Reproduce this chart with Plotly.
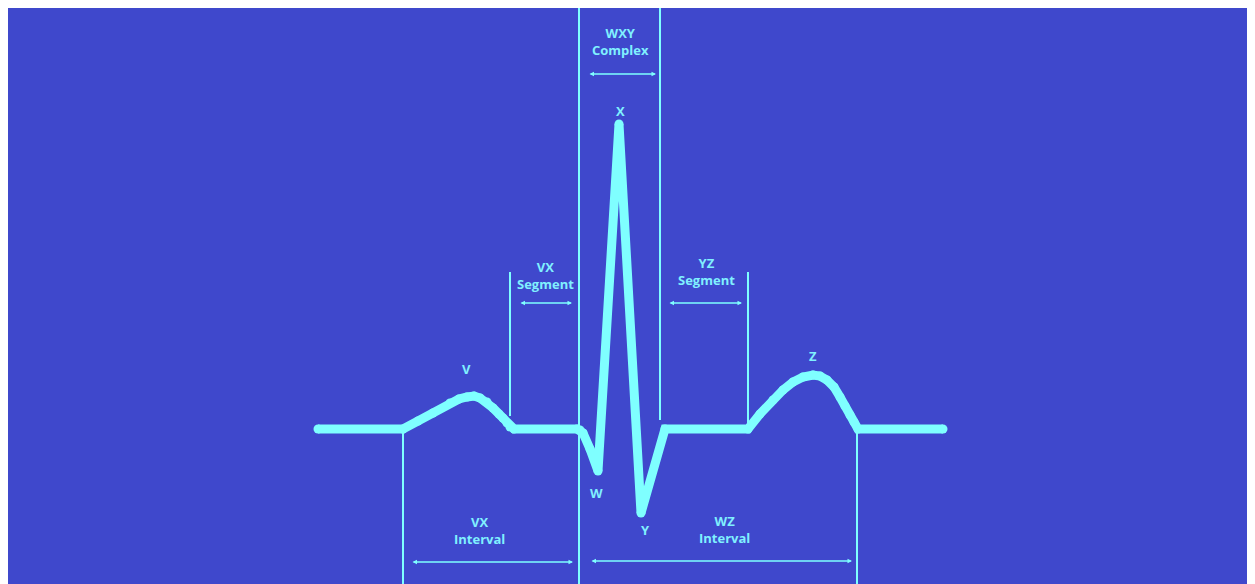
import plotly.graph_objects as go

# ECG trace (x: time units, y: amplitude units; baseline = 0)
ecg_x = [312, 397, 412, 427, 444, 453, 461, 468, 474, 481, 487, 493, 497, 501, 504, 508,
         571, 574, 577, 584, 592,
         613,
         635, 659,
         742, 754, 767, 777, 787, 797, 807, 814, 821, 828, 834, 839, 844, 848, 852, 937]
ecg_y = [0, 0, 8, 16, 26, 30, 32, 33, 31, 27, 21, 15, 11, 6, 2, 0,
         0, -1, -4, -20, -42,
         305,
         -84, 0,
         0, 15, 29, 39, 47, 52, 54, 53, 49, 42, 32, 23, 14, 7, 0, 0]

# Boundary markers (x, y_start, y_end)
marker_x = [397, 504, 573, 654, 742, 851]
marker_y0 = [0, 13, -155, 9, 0, 0]
marker_y1 = [-155, 157, 422, 422, 157, -155]

# Interval arrows (x_start, x_end, y)
arrow_x0 = [582, 513, 662, 405, 584]
arrow_x1 = [650, 566, 736, 567, 846]
arrow_y = [355, 126, 126, -133, -132]

# Region labels
region_text = ["WXY<br>Complex", "VX<br>Segment", "YZ<br>Segment",
               "VX<br>Interval", "WZ<br>Interval"]
region_x = [614, 539, 700, 473, 718]
region_y = [388, 154, 158, -101, -100]

# Wave labels
wave_text = ["V", "X", "W", "Y", "Z"]
wave_x = [460, 614, 590, 639, 807]
wave_y = [60, 318, -64, -101, 73]

BG = "#3F48CC"
LINE = "#7FFFFF"
TEXT = "#80F0FF"

fig = go.Figure()
fig.add_trace(go.Scatter(x=ecg_x, y=ecg_y, mode="lines+markers",
                         line=dict(color=LINE, width=9),
                         marker=dict(color=LINE, size=9, line=dict(width=0)),
                         hoverinfo="skip", showlegend=False))

for x, y0, y1 in zip(marker_x, marker_y0, marker_y1):
    fig.add_shape(type="line", x0=x, x1=x, y0=y0, y1=y1, xref="x", yref="y",
                  line=dict(color=LINE, width=2))

for x0, x1, y in zip(arrow_x0, arrow_x1, arrow_y):
    fig.add_annotation(x=x1, y=y, ax=x0, ay=y, xref="x", yref="y", axref="x", ayref="y",
                       text="", showarrow=True, arrowhead=2, arrowside="end+start",
                       arrowsize=0.6, arrowwidth=1.5, arrowcolor=LINE)

for t, x, y in zip(region_text, region_x, region_y):
    fig.add_annotation(x=x, y=y, xref="x", yref="y", text="<b>" + t + "</b>",
                       showarrow=False, font=dict(family="Open Sans", size=13, color=TEXT))

for t, x, y in zip(wave_text, wave_x, wave_y):
    fig.add_annotation(x=x, y=y, xref="x", yref="y", text="<b>" + t + "</b>",
                       showarrow=False, font=dict(family="Open Sans", size=13, color=TEXT))

fig.update_layout(
    width=1247, height=576,
    margin=dict(l=0, t=0, r=0, b=0),
    paper_bgcolor="white", plot_bgcolor=BG,
    xaxis=dict(range=[2, 1249], visible=False, fixedrange=True),
    yaxis=dict(range=[-155, 421], visible=False, fixedrange=True),
    showlegend=False,
)

fig.write_html("out.html")
